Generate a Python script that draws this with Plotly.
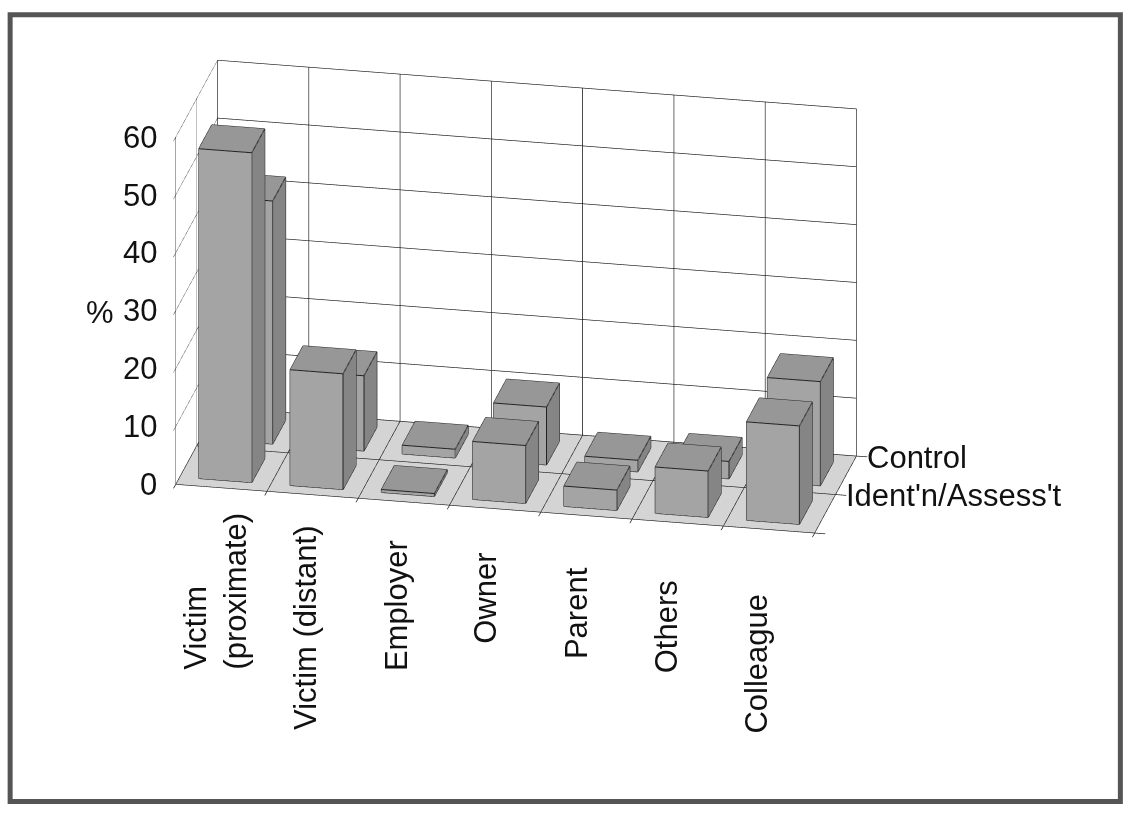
import plotly.graph_objects as go

# Categories along the front of the chart
categories = ["Victim<br>(proximate)", "Victim (distant)", "Employer", "Owner",
              "Parent", "Others", "Colleague"]
# Series, front row first
series_names = ["Ident'n/Assess't", "Control"]
ident_assess = [57, 20, 0.5, 10, 3.5, 8, 17]
control = [42, 13, 1.5, 10, 2, 3, 18]
value_ticks = [0, 10, 20, 30, 40, 50, 60]

FONT = "Arial, Liberation Sans, sans-serif"
TEXT = dict(family=FONT, size=31, color="#111111")
BAR_W = 0.58   # bar width as a fraction of one category
BAR_D = 0.62   # bar depth as a fraction of one row
FACE_FRONT, FACE_TOP, FACE_SIDE = "#a4a4a4", "#979797", "#858585"


def bar_mesh(xc, yc, h):
    x0, x1 = xc - BAR_W / 2, xc + BAR_W / 2
    y0, y1 = yc - BAR_D / 2, yc + BAR_D / 2
    vx = [x0, x1, x1, x0, x0, x1, x1, x0]
    vy = [y0, y0, y1, y1, y0, y0, y1, y1]
    vz = [0, 0, 0, 0, h, h, h, h]
    tri = [
        (0, 1, 2, FACE_SIDE), (0, 2, 3, FACE_SIDE),      # bottom
        (4, 5, 6, FACE_TOP), (4, 6, 7, FACE_TOP),        # top
        (0, 1, 5, FACE_FRONT), (0, 5, 4, FACE_FRONT),    # front
        (3, 2, 6, FACE_SIDE), (3, 6, 7, FACE_SIDE),      # back
        (0, 3, 7, FACE_SIDE), (0, 7, 4, FACE_SIDE),      # left
        (1, 2, 6, FACE_SIDE), (1, 6, 5, FACE_SIDE),      # right
    ]
    edges = [(0, 1), (1, 2), (2, 3), (3, 0), (4, 5), (5, 6), (6, 7), (7, 4),
             (0, 4), (1, 5), (2, 6), (3, 7)]
    return vx, vy, vz, tri, edges


mx, my, mz, mi, mj, mk, mc = [], [], [], [], [], [], []
lx, ly, lz = [], [], []
for row, values in enumerate([ident_assess, control]):
    for ci, v in enumerate(values):
        vx, vy, vz, tri, edges = bar_mesh(ci + 0.5, row + 0.5, v)
        base = len(mx)
        mx += vx; my += vy; mz += vz
        for a, b, c, col in tri:
            mi.append(base + a); mj.append(base + b); mk.append(base + c); mc.append(col)
        for a, b in edges:
            lx += [vx[a], vx[b], None]
            ly += [vy[a], vy[b], None]
            lz += [vz[a], vz[b], None]

fig = go.Figure()
fig.add_trace(go.Mesh3d(
    x=mx, y=my, z=mz, i=mi, j=mj, k=mk, facecolor=mc, flatshading=True,
    lighting=dict(ambient=1, diffuse=0, specular=0, roughness=1, fresnel=0),
    hoverinfo="skip", showscale=False))
fig.add_trace(go.Scatter3d(
    x=lx, y=ly, z=lz, mode="lines", line=dict(color="#222222", width=2),
    hoverinfo="skip", showlegend=False))

axis_common = dict(
    showgrid=True, gridcolor="#111111", gridwidth=1.3, zeroline=False,
    showspikes=False, showbackground=True, title=dict(text=""),
    ticks="outside", tickcolor="#111111", ticklen=11, tickwidth=1.5,
    showline=False, showticklabels=False,
)

annotations = []
for v in value_ticks:
    annotations.append(dict(
        x=0, y=0, z=v, text=str(v), showarrow=False,
        xanchor="right", yanchor="middle", xshift=-17, font=TEXT))
for ci, name in enumerate(categories):
    annotations.append(dict(
        x=ci + 0.5, y=0, z=0, text=name, textangle=-90, showarrow=False,
        xanchor="center", yanchor="top", align="left",
        xshift=-6 - ci, yshift=-(23 + 6.5 * ci), font=TEXT))
for row, name in enumerate(series_names):
    annotations.append(dict(
        x=7, y=row + 0.5, z=0, text=name, showarrow=False,
        xanchor="left", yanchor="middle", xshift=19, yshift=18,
        font=TEXT))

fig.update_layout(
    width=1126, height=813,
    margin=dict(l=0, r=0, t=0, b=0),
    paper_bgcolor="white",
    showlegend=False,
    scene=dict(
        domain=dict(x=[0.0, 1.0], y=[0.0, 1.0]),
        xaxis=dict(axis_common, range=[0, 7], tickvals=list(range(8)),
                   backgroundcolor="white"),
        yaxis=dict(axis_common, range=[0, 2], tickvals=[0, 1, 2],
                   backgroundcolor="white"),
        zaxis=dict(axis_common, range=[0, 60], tickvals=value_ticks,
                   backgroundcolor="#d4d4d4"),
        aspectmode="manual", aspectratio=dict(x=1.604, y=0.516, z=0.921),
        camera=dict(eye=dict(x=0.6085, y=-2.4113, z=0.7121),
                    center=dict(x=0.1333, y=-0.0762, z=-0.2506),
                    projection=dict(type="orthographic")),
        annotations=annotations,
    ),
    annotations=[dict(x=100 / 1126, y=1 - 312 / 813, xref="paper", yref="paper",
                      xanchor="center", yanchor="middle",
                      text="%", showarrow=False, font=TEXT)],
    shapes=[dict(type="rect", xref="paper", yref="paper", x0=0.009, x1=0.995,
                 y0=0.014, y1=0.982, line=dict(color="#555555", width=5))],
)

fig.write_html("out.html")
